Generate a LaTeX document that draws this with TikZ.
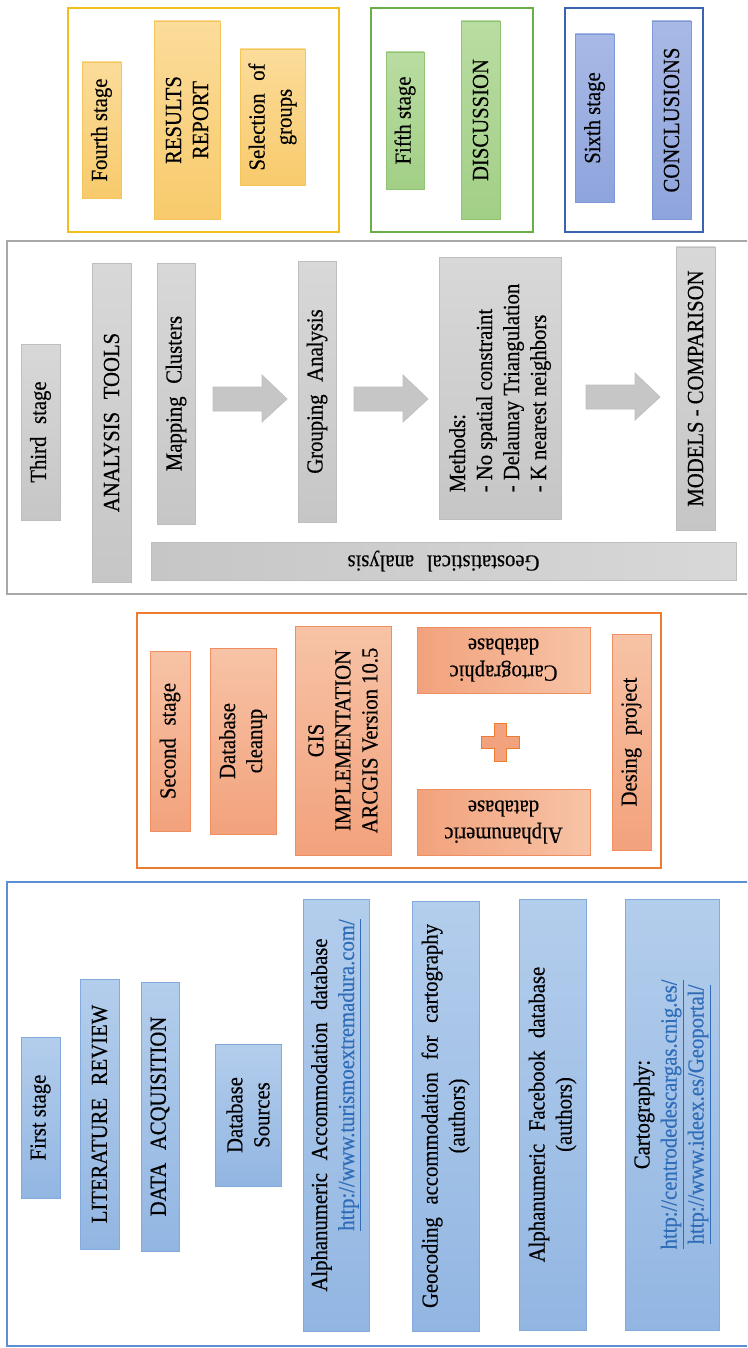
\documentclass[tikz,border=0pt]{standalone}
\usepackage{fontspec}
\setmainfont{Liberation Serif}[FakeStretch=0.9, FakeBold=0.4]
\definecolor{yfr}{HTML}{F2BE1A}
\definecolor{ybd}{HTML}{F3C55A}
\definecolor{yl}{HTML}{FBDC9A}
\definecolor{yd}{HTML}{F8CA6C}
\definecolor{gfr}{HTML}{6AAE48}
\definecolor{gbd}{HTML}{8FC572}
\definecolor{gl}{HTML}{B9DCA2}
\definecolor{gd}{HTML}{A2CF86}
\definecolor{bfr}{HTML}{3C62B2}
\definecolor{bbd}{HTML}{7F98D8}
\definecolor{bl}{HTML}{A9B9E6}
\definecolor{bd}{HTML}{8EA4DC}
\definecolor{afr}{HTML}{A8A8A8}
\definecolor{abd}{HTML}{BEBEBE}
\definecolor{al}{HTML}{D8D8D8}
\definecolor{ad}{HTML}{C6C6C6}
\definecolor{ofr}{HTML}{EC7C30}
\definecolor{obd}{HTML}{EF8E60}
\definecolor{ol}{HTML}{F7C3A6}
\definecolor{od}{HTML}{F2A27C}
\definecolor{cfr}{HTML}{5B8ED2}
\definecolor{cbd}{HTML}{82AADC}
\definecolor{cl}{HTML}{B3CDEC}
\definecolor{cd}{HTML}{92B6E2}
\definecolor{urlc}{HTML}{2F6DB8}
\newcommand{\lnk}[1]{\textcolor{urlc}{\underline{#1}}}
\newcommand{\rbox}[7]{%
  \node[#2, rotate=90, minimum width={(#6-#4)*1pt}, minimum height={(#5-#3)*1pt}]
    (#1) at ({(#3+#5)/2},{(#4+#6)/2}) {#7};}
\newcommand{\ubox}[7]{%
  \node[#2, rotate=180, minimum width={(#5-#3)*1pt}, minimum height={(#6-#4)*1pt}]
    (#1) at ({(#3+#5)/2},{(#4+#6)/2}) {#7};}
\tikzset{
  bx/.style={inner sep=0pt, outer sep=0pt, align=center, line width=0.7pt,
    font=\fontsize{23}{27}\selectfont},
  widesp/.style={execute at begin node={\spaceskip=0.55em\relax}},
  yb/.style={bx, draw=ybd, top color=yl, bottom color=yd},
  gb/.style={bx, draw=gbd, top color=gl, bottom color=gd},
  bb/.style={bx, draw=bbd, top color=bl, bottom color=bd},
  ab/.style={bx, draw=abd, top color=al, bottom color=ad},
  abu/.style={bx, draw=abd, left color=ad, right color=al},
  ob/.style={bx, draw=obd, top color=ol, bottom color=od},
  obu/.style={bx, draw=obd, left color=od, right color=ol},
  cb/.style={bx, draw=cbd, top color=cl, bottom color=cd},
  frame/.style={inner sep=0pt, outer sep=0pt, fill=none},
  blockarrow/.style={fill=ad, draw=abd, line width=0.7pt, line join=miter},
  plusshape/.style={fill=od, draw=ofr, line width=0.8pt},
}
\begin{document}
\begin{tikzpicture}[x=1pt, y=-1pt]
\useasboundingbox (0,0) rectangle (747,1348);
\fill[white] (0,0) rectangle (747,1348);
\clip (0,0) rectangle (747,1348);

% ---------- frames ----------
\node[frame, draw=yfr, line width=2.2pt, minimum width=271pt, minimum height=224pt] (f4) at (203.5,120) {};
\node[frame, draw=gfr, line width=2pt, minimum width=162pt, minimum height=224pt] (f5) at (452,120) {};
\node[frame, draw=bfr, line width=2pt, minimum width=138pt, minimum height=224pt] (f6) at (634,120) {};
\node[frame, draw=afr, line width=2pt, minimum width=748pt, minimum height=353pt] (f3) at (381,417.5) {};
\node[frame, draw=ofr, line width=2pt, minimum width=524pt, minimum height=255pt] (f2) at (399,740.5) {};
\node[frame, draw=cfr, line width=2pt, minimum width=748pt, minimum height=464pt] (f1) at (381,1114) {};

% ---------- fourth / fifth / sixth stage ----------
\rbox{fourth}{yb}{82}{62}{121}{198}{Fourth stage}
\rbox{results}{yb}{154}{21}{220}{219}{RESULTS\\REPORT}
\rbox{selection}{yb,widesp}{240}{49}{305}{185}{Selection of\\groups}
\rbox{fifth}{gb}{386}{52}{424}{189}{Fifth stage}
\rbox{discussion}{gb}{461}{21}{500}{219}{DISCUSSION}
\rbox{sixth}{bb}{575}{34}{614}{202}{Sixth stage}
\rbox{conclusions}{bb}{652}{21}{691}{219}{CONCLUSIONS}

% ---------- third stage ----------
\rbox{third}{ab,widesp}{21}{344}{60}{520}{Third stage}
\rbox{tools}{ab,widesp}{92}{263}{131}{582}{ANALYSIS TOOLS}
\rbox{mapping}{ab,widesp}{157}{263}{195}{524}{Mapping Clusters}
\rbox{grouping}{ab,widesp}{298}{261}{336}{522}{Grouping Analysis}
\rbox{methods}{ab,align=left}{439}{257}{561}{519}{Methods:\\- No spatial constraint\\- Delaunay Triangulation\\- K nearest neighbors}
\rbox{models}{ab}{676}{247}{715}{530}{MODELS - COMPARISON}
\ubox{geo}{abu,widesp}{151}{542}{736}{580}{Geostatistical analysis}

\path[blockarrow] (213,387) -- (262,387) -- (262,375) -- (287,399) -- (262,422) -- (262,411) -- (213,411) -- cycle;
\path[blockarrow] (354,387) -- (403,387) -- (403,375) -- (428,399) -- (403,422) -- (403,411) -- (354,411) -- cycle;
\path[blockarrow] (586,385) -- (635,385) -- (635,373) -- (660,397) -- (635,420) -- (635,409) -- (586,409) -- cycle;

% ---------- second stage ----------
\rbox{second}{ob,widesp}{150}{651}{190}{831}{Second stage}
\rbox{cleanup}{ob}{210}{648}{276}{834}{Database\\cleanup}
\rbox{gis}{ob}{295}{626}{391}{855}{GIS\\IMPLEMENTATION\\ARCGIS Version 10.5}
\ubox{carto}{obu}{417}{627}{590}{693}{Cartographic\\database}
\ubox{alpha}{obu}{417}{789}{590}{855}{Alphanumeric\\database}
\rbox{desing}{ob,widesp}{612}{634}{651}{850}{Desing project}
\path[plusshape] (494,723) -- (506,723) -- (506,736) -- (519,736) -- (519,748) -- (506,748) -- (506,761) -- (494,761) -- (494,748) -- (481,748) -- (481,736) -- (494,736) -- cycle;

% ---------- first stage ----------
\rbox{first}{cb}{21}{1037}{60}{1198}{First stage}
\rbox{lit}{cb,widesp}{80}{979}{119}{1249}{LITERATURE REVIEW}
\rbox{acq}{cb,widesp}{141}{982}{179}{1251}{DATA ACQUISITION}
\rbox{sources}{cb}{215}{1044}{281}{1186}{Database\\Sources}
\rbox{accom}{cb,widesp}{303}{899}{369}{1331}{Alphanumeric Accommodation database\\\hspace*{80pt}\lnk{http://www.turismoextremadura.com/}}
\rbox{geocod}{cb,widesp}{412}{901}{479}{1331}{Geocoding accommodation for cartography\\(authors)}
\rbox{fb}{cb,widesp}{519}{899}{586}{1330}{Alphanumeric Facebook database\\(authors)}
\rbox{cartog}{cb}{625}{899}{719}{1330}{Cartography:\\\lnk{http://centrodedescargas.cnig.es/}\\\lnk{http://www.ideex.es/Geoportal/}}
\end{tikzpicture}
\end{document}
